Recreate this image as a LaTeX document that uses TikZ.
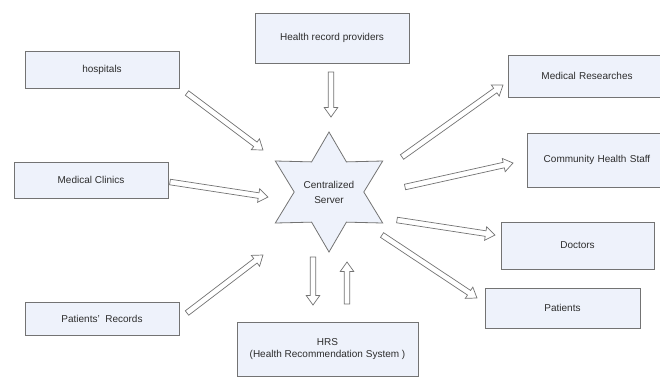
\documentclass[tikz,border=0pt]{standalone}
\usepackage{fontspec}
\setmainfont{Liberation Sans}
\usetikzlibrary{calc}

\definecolor{boxfill}{RGB}{238,242,251}
\definecolor{boxline}{RGB}{115,115,115}
\definecolor{arrowline}{RGB}{115,115,115}
\definecolor{labeltext}{RGB}{45,45,45}

\tikzset{
  box/.style={draw=boxline, fill=boxfill, line width=0.8pt, inner sep=2pt,
              align=center, text=labeltext, font=\fontsize{10}{12}\selectfont},
  % hollow block arrow drawn from the start point to the end point
  blockarrow/.style={draw=arrowline, fill=white, line width=0.7pt, line join=miter,
    to path={
      let \p1=(\tikztostart), \p2=(\tikztotarget),
          \n1={atan2(\y2-\y1,\x2-\x1)}, \n2={veclen(\x2-\x1,\y2-\y1)} in
      {[shift={(\p1)}, rotate=\n1]
        (0pt,2.8pt) -- ({\n2*1pt-9.5pt},2.8pt) -- ({\n2*1pt-9.5pt},6.8pt)
        -- ({\n2*1pt},0pt) -- ({\n2*1pt-9.5pt},-6.8pt) -- ({\n2*1pt-9.5pt},-2.8pt)
        -- (0pt,-2.8pt) -- cycle}
    }},
}

\begin{document}
\begin{tikzpicture}[x=1pt, y=-1pt]
  \useasboundingbox (0,0) rectangle (660,376);
  \clip (0,0) rectangle (660,376);

  % source and destination boxes
  \node[box, minimum width=154pt, minimum height=50pt] (hrp) at (332,38) {Health record providers};
  \node[box, minimum width=154pt, minimum height=37pt] (hosp) at (102,69.5) {hospitals};
  \node[box, minimum width=154pt, minimum height=36pt] (clinic) at (91,180) {Medical Clinics};
  \node[box, minimum width=154pt, minimum height=33pt] (patrec) at (102,318.5) {Patients'\ \ Records};
  \node[box, minimum width=181pt, minimum height=54pt] (hrs) at (327.5,349)
        {HRS\\(Health Recommendation System )};
  \node[box, minimum width=158pt, minimum height=42pt, text width=146pt] (medres) at (587,76) {Medical Researches};
  \node[box, minimum width=140pt, minimum height=54pt, text width=131pt] (comm) at (597,160) {Community Health Staff};
  \node[box, minimum width=153pt, minimum height=47pt] (doc) at (577.5,245.5) {Doctors};
  \node[box, minimum width=155pt, minimum height=40pt] (pat) at (562.5,308) {Patients};

  % central server as a six-pointed star
  \coordinate (c) at (329,192);
  \draw[draw=boxline, fill=boxfill, line width=0.8pt]
    ($(c)+(90:60)$) -- ($(c)+(60:34.8)$) -- ($(c)+(30:62)$) -- ($(c)+(0:34.8)$)
    -- ($(c)+(-30:62)$) -- ($(c)+(-60:34.8)$) -- ($(c)+(-90:60)$) -- ($(c)+(-120:34.8)$)
    -- ($(c)+(-150:62)$) -- ($(c)+(180:34.8)$) -- ($(c)+(150:62)$) -- ($(c)+(120:34.8)$) -- cycle;
  \node[align=center, text=labeltext, font=\fontsize{10}{15}\selectfont] (server) at (c) {Centralized\\Server};

  % arrow end points
  \coordinate (a1s) at (187,93);  \coordinate (a1e) at (263,150);
  \coordinate (a2s) at (331,72);  \coordinate (a2e) at (331,117);
  \coordinate (a3s) at (170,182); \coordinate (a3e) at (268,197);
  \coordinate (a4s) at (187,313); \coordinate (a4e) at (263,255);
  \coordinate (a5s) at (313,257); \coordinate (a5e) at (313,305);
  \coordinate (a6s) at (347,304); \coordinate (a6e) at (347,262);
  \coordinate (a7s) at (402,157); \coordinate (a7e) at (503,85);
  \coordinate (a8s) at (405,187); \coordinate (a8e) at (513,163);
  \coordinate (a9s) at (397,220); \coordinate (a9e) at (495,235);
  \coordinate (a10s) at (382,235); \coordinate (a10e) at (477,298);

  \path[blockarrow] (a1s) to (a1e);
  \path[blockarrow] (a2s) to (a2e);
  \path[blockarrow] (a3s) to (a3e);
  \path[blockarrow] (a4s) to (a4e);
  \path[blockarrow] (a5s) to (a5e);
  \path[blockarrow] (a6s) to (a6e);
  \path[blockarrow] (a7s) to (a7e);
  \path[blockarrow] (a8s) to (a8e);
  \path[blockarrow] (a9s) to (a9e);
  \path[blockarrow] (a10s) to (a10e);
\end{tikzpicture}
\end{document}
